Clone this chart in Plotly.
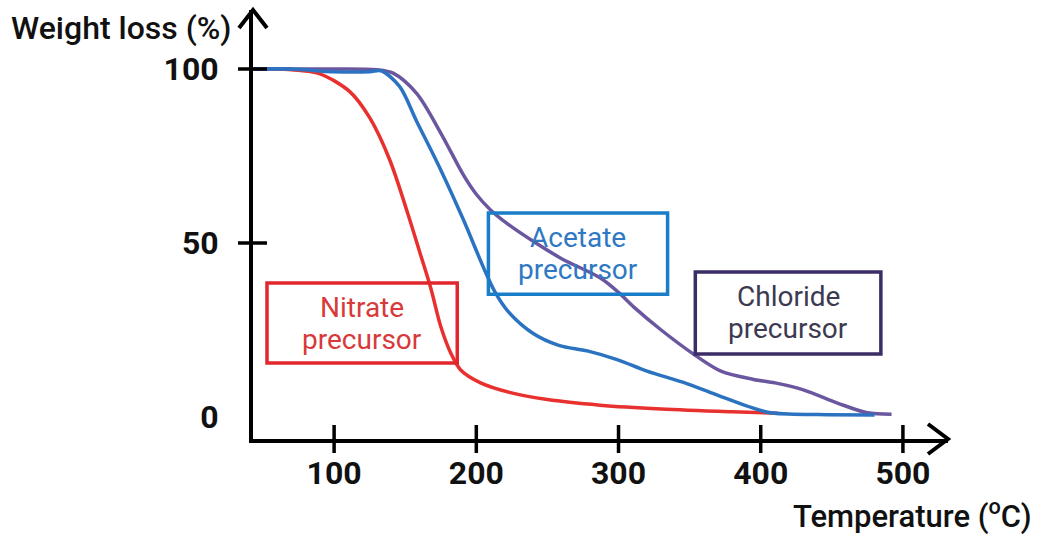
import plotly.graph_objects as go

# Thermogravimetric curves of the three precursors
nitrate_T = [43, 60, 75, 90, 111, 125, 139, 151, 160.5, 168, 175, 182, 189, 203, 224, 250, 287, 330, 380, 412]
nitrate_W = [100, 100, 99.6, 98.6, 93.5, 86, 74, 59.5, 47, 37, 26, 18.4, 13.5, 9.8, 7.0, 5.0, 3.4, 2.3, 1.5, 1.1]

acetate_T = [43, 70, 100, 125, 133, 146, 158, 175, 191, 205, 213, 222, 240, 258, 278, 299, 320, 348, 370, 390, 407, 440, 480]
acetate_W = [100, 100, 99.2, 99.2, 99.5, 95, 85, 71, 56.6, 43, 36, 30.5, 24, 20.6, 19, 16.5, 13.2, 9.6, 6.2, 3.2, 1.2, 0.7, 0.6]

chloride_T = [43, 90, 130, 141.5, 158, 175, 191, 200, 210, 222, 240, 260, 287, 300, 311, 330, 353, 372, 395, 410, 430, 454, 475, 492]
chloride_W = [100, 100, 99.8, 98.8, 93, 81.6, 69.5, 64, 59.5, 55.5, 50.5, 45.5, 40, 35.8, 31.5, 25, 18, 13.2, 10.8, 9.8, 7.8, 4, 1.2, 0.8]

x_ticks = [100, 200, 300, 400, 500]
y_ticks = [0, 50, 100]
y_tick_marks = [50, 100]

series = [
    ("Nitrate", nitrate_T, nitrate_W, "#e8312f"),
    ("Chloride", chloride_T, chloride_W, "#6b57a0"),
    ("Acetate", acetate_T, acetate_W, "#2b73c1"),
]

# Label boxes: (lines, T0, T1, W0, W1, box colour, text colour)
boxes = [
    (["Nitrate", "precursor"], 52.8, 186.6, 15.5, 38.5, "#e1272d", "#d8393b"),
    (["Acetate", "precursor"], 208.5, 334.5, 35.3, 58.6, "#1a7dc8", "#2f78c2"),
    (["Chloride", "precursor"], 354, 484.5, 18.1, 41.7, "#3b2d66", "#3c3a50"),
]

X_RANGE = [42.96, 531.7]
Y_RANGE = [-6.32, 116.95]

FONT = "Roboto"

fig = go.Figure()
for name, t, w, c in series:
    fig.add_trace(go.Scatter(
        x=t, y=w, mode="lines", name=name,
        line=dict(color=c, width=3.5, shape="spline", smoothing=0.9),
        hoverinfo="skip",
    ))

shapes = []
# crossing tick marks on the x axis
for v in x_ticks:
    shapes.append(dict(type="line", xref="x", yref="paper", ysizemode="pixel",
                       yanchor=0, x0=v, x1=v, y0=-14, y1=14,
                       line=dict(color="black", width=3.5)))
# crossing tick marks on the y axis
for v in y_tick_marks:
    shapes.append(dict(type="line", xref="paper", yref="y", xsizemode="pixel",
                       xanchor=0, y0=v, y1=v, x0=-15, x1=14,
                       line=dict(color="black", width=3.5)))
# arrow heads at the axis ends
shapes.append(dict(type="path", xref="paper", yref="paper", xsizemode="pixel", ysizemode="pixel",
                   xanchor=1, yanchor=0,
                   path="M-20,15 L0,0 L-20,-15", line=dict(color="black", width=4)))
shapes.append(dict(type="path", xref="paper", yref="paper", xsizemode="pixel", ysizemode="pixel",
                   xanchor=0, yanchor=1,
                   path="M-14,-18 L0,0 L14,-18", line=dict(color="black", width=4)))

annotations = []
for lines, t0, t1, w0, w1, bc, tc in boxes:
    shapes.append(dict(type="rect", xref="x", yref="y", x0=t0, x1=t1, y0=w0, y1=w1,
                       line=dict(color=bc, width=3.5), fillcolor="rgba(0,0,0,0)"))
    for i, txt in enumerate(lines):
        annotations.append(dict(
            x=(t0 + t1) / 2, y=(w0 + w1) / 2, xref="x", yref="y",
            text=txt, showarrow=False, yshift=16 - 32 * i,
            font=dict(family=FONT, size=28, color=tc),
        ))

annotations.append(dict(
    x=0, y=1, xref="paper", yref="paper", xanchor="right", yanchor="middle",
    xshift=-19, yshift=-18, text="Weight loss (%)", showarrow=False,
    font=dict(family=FONT, size=32, color="#111111", weight=500),
))
annotations.append(dict(
    x=1, y=0, xref="paper", yref="paper", xanchor="right", yanchor="middle",
    xshift=85, yshift=-75, text="Temperature (<sup>o</sup>C)", showarrow=False,
    font=dict(family=FONT, size=31, color="#111111", weight=500),
))

fig.update_layout(
    width=1041, height=536,
    margin=dict(l=253, r=93, t=10, b=97),
    paper_bgcolor="white", plot_bgcolor="white",
    showlegend=False,
    shapes=shapes, annotations=annotations,
    xaxis=dict(range=X_RANGE, showgrid=False, zeroline=False, showline=True,
               linecolor="black", linewidth=4, ticks="", tickvals=x_ticks,
               ticktext=[str(v) for v in x_ticks], ticklabelstandoff=3,
               tickfont=dict(family=FONT, size=32, color="#111111", weight=700)),
    yaxis=dict(range=Y_RANGE, showgrid=False, zeroline=False, showline=True,
               linecolor="black", linewidth=4, ticks="", tickvals=y_ticks,
               ticktext=[str(v) for v in y_ticks], ticklabelstandoff=24,
               tickfont=dict(family=FONT, size=32, color="#111111", weight=700)),
)

fig.write_html("out.html")
